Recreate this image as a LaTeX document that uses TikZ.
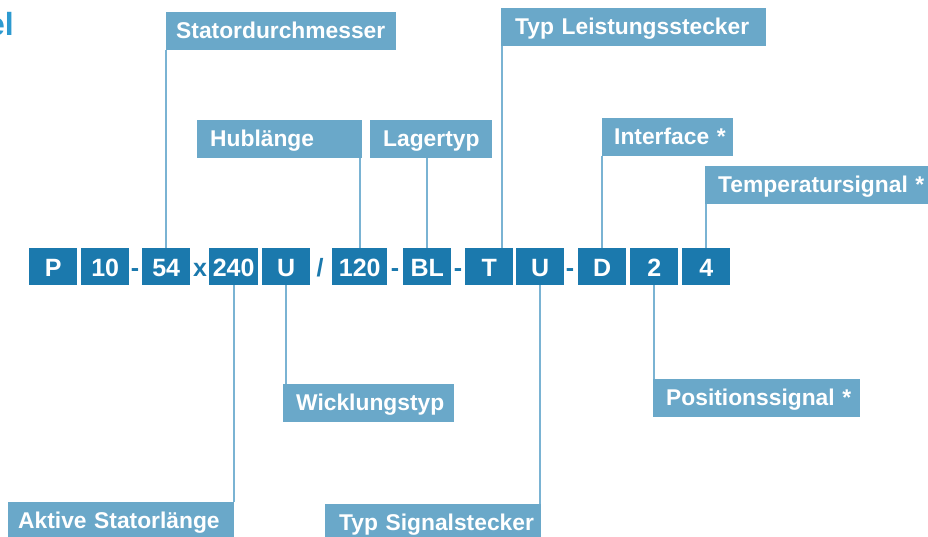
\documentclass[tikz,border=0pt]{standalone}
\usepackage{fontspec}
\setmainfont{Liberation Sans}
\usepackage{xcolor}

\begin{document}
\begin{tikzpicture}[x=1pt,y=-1pt,
  codebox/.style={fill=codeblue,text=white,minimum height=37pt,inner sep=0pt,anchor=north west,
    text height=19pt,text depth=0pt,font=\fontsize{25}{25}\selectfont\bfseries},
  sepmark/.style={text=codeblue,inner sep=0pt,text height=19pt,text depth=0pt,
    font=\fontsize{25}{25}\selectfont\bfseries},
  lblbox/.style={fill=lblblue,text=white,inner ysep=0pt,minimum height=38pt,
    anchor=north west,align=left,text height=18pt,text depth=4pt,
    font=\fontsize{22.8}{22.8}\selectfont\bfseries},
  conn/.style={draw=lineblue,line width=2pt}]
\definecolor{codeblue}{HTML}{1B79AD}
\definecolor{lblblue}{HTML}{6AA8C9}
\definecolor{lineblue}{HTML}{7AB3D3}
\definecolor{titleblue}{HTML}{2D9AD0}
\useasboundingbox (0,0) rectangle (928,536);
\node[anchor=base east,inner sep=0pt,text=titleblue,font=\fontsize{32}{32}\selectfont\bfseries] (title) at (14,35) {el};
% code boxes
\foreach \nm/\txt/\xl/\bw in {p/P/29/48,ten/10/81/48,dia/54/142/48,len/240/209/49,wind/U/262/48,
  hub/120/332/55,bear/BL/403/48,pwr/T/465/48,sig/U/516/48,intf/D/578/48,pos/2/630/48,temp/4/682/48}
  {\node[codebox,minimum width=\bw pt] (\nm) at (\xl,248) {\txt};}
% separators
\foreach \sp/\xc [count=\i] in {-/135,x/200,{/}/320,-/395,-/458,-/570}
  {\node[sepmark] (sep\i) at (\xc,266.5) {\sp};}
% labels
\foreach \nm/\txt/\xl/\yt/\pd/\tw in {stat/Statordurchmesser/166/12/10/210,hubl/Hublänge/197/120/13/139,
  lager/Lagertyp/370/120/13/96,leist/Typ Leistungsstecker/501/8/14/237,iface/Interface */602/118/12/107,
  tsig/Temperatursignal */705/166/13/214,aktiv/Aktive Statorlänge/8/502/10/206,wickl/Wicklungstyp/283/384/13/145,
  ssig/Typ Signalstecker/325/504/14/188,psig/Positionssignal */653/379/13/181}
  {\node[lblbox,inner xsep=\pd pt,text width=\tw pt] (\nm) at (\xl,\yt) {\mbox{\txt}};}
% connectors
\draw[conn] (dia.north) -- (dia.north |- stat.south);
\draw[conn] (hub.north) -- (hub.north |- hubl.south);
\draw[conn] (bear.north) -- (bear.north |- lager.south);
\draw[conn] ([xshift=13pt]pwr.north) -- ([xshift=13pt]pwr.north |- leist.south);
\draw[conn] (intf.north) -- (intf.north |- iface.south);
\draw[conn] (temp.north) -- (temp.north |- tsig.south);
\draw[conn] (len.south) -- (len.south |- aktiv.north);
\draw[conn] (wind.south) -- (wind.south |- wickl.north);
\draw[conn] (sig.south) -- (sig.south |- ssig.north);
\draw[conn] (pos.south) -- (pos.south |- psig.north);
\end{tikzpicture}
\end{document}
